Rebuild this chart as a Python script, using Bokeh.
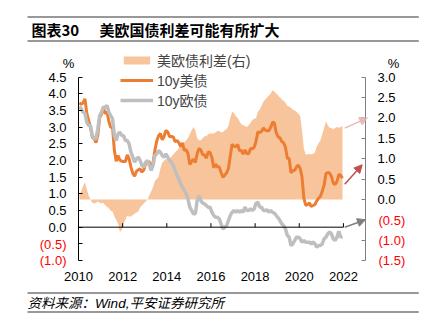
import numpy as np
from bokeh.plotting import figure
from bokeh.models import (Range1d, LinearAxis, FixedTicker, Legend, LegendItem,
                          ColumnDataSource, Label, Arrow, NormalHead, CustomJSTickFormatter)
from bokeh.embed import file_html
from bokeh.resources import INLINE

# ---------------- data (monthly, Jan 2010 - Dec 2021) ----------------
us10y = [3.73, 3.69, 3.73, 3.85, 3.42, 3.20, 3.01, 2.70, 2.65, 2.54, 2.76, 3.29,
         3.39, 3.58, 3.41, 3.46, 3.17, 3.00, 3.00, 2.30, 1.98, 2.15, 2.01, 1.98,
         1.97, 1.97, 2.17, 2.05, 1.80, 1.62, 1.53, 1.68, 1.72, 1.75, 1.65, 1.72,
         1.91, 1.98, 1.96, 1.76, 1.93, 2.30, 2.58, 2.74, 2.81, 2.62, 2.72, 2.90,
         2.86, 2.71, 2.72, 2.71, 2.56, 2.60, 2.54, 2.42, 2.53, 2.30, 2.33, 2.21,
         1.88, 1.98, 2.04, 1.94, 2.20, 2.36, 2.32, 2.17, 2.17, 2.07, 2.26, 2.24,
         2.09, 1.78, 1.89, 1.81, 1.81, 1.64, 1.50, 1.56, 1.63, 1.76, 2.14, 2.49,
         2.43, 2.42, 2.48, 2.30, 2.30, 2.19, 2.32, 2.21, 2.20, 2.36, 2.35, 2.40,
         2.58, 2.86, 2.84, 2.87, 2.98, 2.91, 2.89, 2.89, 3.00, 3.15, 3.12, 2.83,
         2.71, 2.68, 2.57, 2.53, 2.40, 2.07, 2.06, 1.63, 1.70, 1.71, 1.81, 1.86,
         1.76, 1.50, 0.87, 0.66, 0.67, 0.73, 0.62, 0.65, 0.68, 0.79, 0.87, 0.93,
         1.08, 1.26, 1.61, 1.64, 1.62, 1.52, 1.32, 1.28, 1.37, 1.58, 1.56, 1.47]

eu10y = [3.62, 3.55, 3.45, 3.42, 3.15, 3.05, 3.05, 2.75, 2.65, 2.65, 2.95, 3.35,
         3.45, 3.60, 3.60, 3.65, 3.45, 3.35, 3.25, 2.75, 2.60, 2.80, 2.85, 2.75,
         2.75, 2.60, 2.60, 2.50, 2.25, 2.10, 1.95, 2.05, 2.10, 2.00, 1.85, 1.80,
         1.95, 2.00, 1.85, 1.70, 1.85, 2.15, 2.20, 2.30, 2.25, 2.15, 2.10, 2.20,
         2.10, 2.00, 1.95, 1.85, 1.70, 1.55, 1.45, 1.30, 1.20, 1.10, 1.00, 0.85,
         0.60, 0.50, 0.40, 0.40, 0.80, 0.95, 0.80, 0.72, 0.70, 0.65, 0.60, 0.60,
         0.45, 0.35, 0.30, 0.30, 0.25, 0.10, -0.05, 0.00, 0.05, 0.20, 0.35, 0.45,
         0.50, 0.45, 0.50, 0.45, 0.50, 0.45, 0.60, 0.50, 0.50, 0.55, 0.50, 0.55,
         0.72, 0.75, 0.60, 0.60, 0.50, 0.50, 0.52, 0.45, 0.50, 0.45, 0.42, 0.35,
         0.28, 0.20, 0.10, 0.05, -0.05, -0.25, -0.30, -0.55, -0.50, -0.40, -0.30, -0.30,
         -0.35, -0.45, -0.40, -0.45, -0.45, -0.45, -0.50, -0.45, -0.50, -0.60, -0.55, -0.55,
         -0.50, -0.35, -0.30, -0.20, -0.15, -0.20, -0.35, -0.40, -0.30, -0.12, -0.30, -0.28]

spread = [0.12, 0.20, 0.33, 0.42, 0.25, 0.10, 0.00, -0.08, -0.10, -0.08, -0.05, -0.08,
          -0.10, -0.08, -0.15, -0.18, -0.22, -0.28, -0.30, -0.42, -0.50, -0.60, -0.80, -0.75,
          -0.60, -0.50, -0.40, -0.42, -0.42, -0.38, -0.35, -0.32, -0.30, -0.20, -0.15, -0.10,
          -0.05, 0.00, 0.10, 0.20, 0.30, 0.45, 0.50, 0.55, 0.75, 0.90, 0.95, 1.00,
          0.95, 1.00, 1.05, 1.10, 1.15, 1.20, 1.25, 1.30, 1.35, 1.40, 1.45, 1.50,
          1.60, 1.70, 1.78, 1.70, 1.50, 1.45, 1.45, 1.50, 1.55, 1.55, 1.60, 1.62,
          1.62, 1.62, 1.65, 1.68, 1.68, 1.65, 1.65, 1.70, 1.72, 1.80, 2.00, 2.15,
          2.12, 2.05, 2.00, 1.92, 1.85, 1.82, 1.80, 1.78, 1.82, 1.88, 1.95, 1.98,
          2.00, 2.15, 2.20, 2.30, 2.40, 2.45, 2.50, 2.55, 2.60, 2.68, 2.65, 2.60,
          2.55, 2.50, 2.45, 2.42, 2.37, 2.30, 2.28, 2.25, 2.20, 2.18, 2.15, 2.10,
          2.05, 1.70, 1.25, 1.10, 1.10, 1.12, 1.10, 1.12, 1.15, 1.30, 1.38, 1.45,
          1.60, 1.75, 1.92, 1.82, 1.76, 1.75, 1.72, 1.75, 1.78, 1.76, 1.78, 1.80]

start_year = 2010
x_ticks = [2010, 2012, 2014, 2016, 2018, 2020, 2022]
x_labels = ["2010", "2012", "2014", "2016", "2018", "2020", "2022"]
left_ticks = [-1.0, -0.5, 0.0, 0.5, 1.0, 1.5, 2.0, 2.5, 3.0, 3.5, 4.0, 4.5]
left_labels = ["(1.0)", "(0.5)", "0.0", "0.5", "1.0", "1.5", "2.0", "2.5", "3.0", "3.5", "4.0", "4.5"]
right_ticks = [-1.5, -1.0, -0.5, 0.0, 0.5, 1.0, 1.5, 2.0, 2.5, 3.0]
right_labels = ["(1.5)", "(1.0)", "(0.5)", "0.0", "0.5", "1.0", "1.5", "2.0", "2.5", "3.0"]
arrow_targets = [2.0, 0.85, -0.5]   # right-axis values that the three arrows point to

series_names = ["美欧债利差(右)", "10y美债", "10y欧债"]
title_tag = "图表30"
title_text = "美欧国债利差可能有所扩大"
source_text = "资料来源：Wind,平安证券研究所"
unit_text = "%"

# ---------------- styling / layout ----------------
C_AREA = "#F8C49C"
C_US = "#ED7D31"
C_EU = "#BFBFBF"
C_RED = "#FF0000"
C_RULE = "#333333"
FONT = "'Liberation Sans', 'Noto Sans CJK SC', sans-serif"
CJK = "'Noto Sans CJK SC', sans-serif"
LINE_PX = 13 * 1.18          # rendered line pitch of a 13px multi-line label per unit line-height

W, H = 428, 331
FR_L, FR_R, FR_T, FR_B = 78, 365, 54, 260      # plot frame (canvas px)
AX_TOP = 76.7                                   # where the value axes end (4.5 / 3.0)

n = len(us10y)
t = start_year + (np.arange(n) + 0.5) / 12.0

# y ranges are extended above the axes' top so the legend inside the frame is not clipped
ext = (AX_TOP - FR_T) / (FR_B - AX_TOP)
XR = Range1d(2010, 2023)
YL = Range1d(-1.0, 4.5 + 5.5 * ext)
YR = Range1d(-1.5, 3.0 + 4.5 * ext)

p = figure(width=W, height=H, output_backend="svg", toolbar_location=None,
           x_range=XR, y_range=YL,
           min_border_left=FR_L, min_border_right=W - FR_R,
           min_border_top=FR_T, min_border_bottom=H - FR_B)
p.extra_y_ranges = {"right": YR}
p.background_fill_color = "white"
p.border_fill_color = "white"
p.outline_line_color = None
p.xgrid.visible = False
p.ygrid.visible = False

src = ColumnDataSource(dict(t=t, us=us10y, eu=eu10y, sp=spread))

area = p.varea(x="t", y1=0, y2="sp", source=src, fill_color=C_AREA, y_range_name="right")
l_us = p.line("t", "us", source=src, line_color=C_US, line_width=3)
l_eu = p.line("t", "eu", source=src, line_color=C_EU, line_width=3.5)

# zero line of the left axis with upward year ticks
p.segment(x0=[x_ticks[0]], x1=[x_ticks[-1]], y0=[0], y1=[0], line_color="black", line_width=1)
p.segment(x0=x_ticks, x1=x_ticks, y0=[0] * len(x_ticks), y1=[0.12] * len(x_ticks),
          line_color="black", line_width=1)

# bottom axis: labels only
xa = p.xaxis[0]
xa.ticker = FixedTicker(ticks=x_ticks)
xa.major_label_overrides = {k: v for k, v in zip(x_ticks, x_labels)}
xa.axis_line_color = None
xa.major_tick_line_color = None
xa.minor_tick_line_color = None
xa.major_label_standoff = 5
xa.major_label_text_font = FONT
xa.major_label_text_font_size = "13px"
xa.major_label_text_color = "black"

fmt_code = """
let k = -1;
for (let j = 0; j < tv.length; j++) { if (Math.abs(tv[j] - tick) < 1e-9) { k = j; } }
const s = k >= 0 ? tl[k] : '';
return s.startsWith('(') ? '' : s;
"""

def style_axis(ax, color):
    ax.axis_line_color = color
    ax.major_tick_line_color = color
    ax.major_tick_in = 4
    ax.major_tick_out = 0
    ax.minor_tick_line_color = None
    ax.major_label_standoff = 12
    ax.major_label_text_font = FONT
    ax.major_label_text_font_size = "13px"
    ax.major_label_text_color = "black"

ya = p.yaxis[0]
ya.ticker = FixedTicker(ticks=left_ticks)
ya.bounds = (left_ticks[0], left_ticks[-1])
ya.formatter = CustomJSTickFormatter(args=dict(tv=left_ticks, tl=left_labels), code=fmt_code)
style_axis(ya, "black")

yr = LinearAxis(y_range_name="right")
yr.ticker = FixedTicker(ticks=right_ticks)
yr.bounds = (right_ticks[0], right_ticks[-1])
yr.formatter = CustomJSTickFormatter(args=dict(tv=right_ticks, tl=right_labels), code=fmt_code)
style_axis(yr, "#808080")
p.add_layout(yr, "right")

# canvas-position helpers (derived from the ranges)
def cy_left(v):
    return FR_B - (v - YL.start) / (YL.end - YL.start) * (FR_B - FR_T)

def cy_right(v):
    return FR_B - (v - YR.start) / (YR.end - YR.start) * (FR_B - FR_T)

def canvas_label(panel, **kw):
    kw.setdefault("text_font", FONT)
    kw.setdefault("text_font_size", "13px")
    kw.setdefault("text_color", "black")
    p.add_layout(Label(x_units="canvas", y_units="canvas", **kw), panel)

# red (negative) tick labels, one multi-line label per axis
negL = [(v, s) for v, s in zip(left_ticks, left_labels) if s.startswith("(")]
negR = [(v, s) for v, s in zip(right_ticks, right_labels) if s.startswith("(")]
negL.sort(key=lambda a: -a[0])
negR.sort(key=lambda a: -a[0])
stepL = cy_left(negL[1][0]) - cy_left(negL[0][0])
stepR = cy_right(negR[1][0]) - cy_right(negR[0][0])
canvas_label("left", x=FR_L - 12, y=(cy_left(negL[0][0]) + cy_left(negL[-1][0])) / 2,
             text="\n".join(s for _, s in negL), text_align="right", text_baseline="middle",
             text_color=C_RED, text_line_height=stepL / LINE_PX)
canvas_label("right", x=FR_R + 13, y=(cy_right(negR[0][0]) + cy_right(negR[-1][0])) / 2,
             text="\n".join(s for _, s in negR), text_align="left", text_baseline="middle",
             text_color=C_RED, text_line_height=stepR / LINE_PX)

# unit labels
canvas_label("left", x=68, y=63, text=unit_text, text_align="center", text_baseline="middle")
canvas_label("below", x=393, y=63, text=unit_text, text_align="center", text_baseline="middle")

# title block and source block with rules
canvas_label("above", x=31, y=29, text=title_tag, text_baseline="middle", text_font=CJK,
             text_font_size="15px", text_font_style="bold")
canvas_label("above", x=99, y=29, text=title_text, text_baseline="middle", text_font=CJK,
             text_font_size="15px", text_font_style="bold")
canvas_label("below", x=27, y=302.5, text=source_text, text_baseline="middle",
             text_font_size="13.5px", text_font_style="italic")
for panel, ry in (("above", 16), ("above", 40), ("below", 292), ("below", 311)):
    canvas_label(panel, x=27, y=ry, text=" ", text_align="left", text_baseline="top",
                 text_font_size="1px", padding=(1, 390, 0, 0),
                 background_fill_color=C_RULE, background_fill_alpha=1)

# legend
legend = Legend(items=[LegendItem(label=series_names[0], renderers=[area]),
                       LegendItem(label=series_names[1], renderers=[l_us]),
                       LegendItem(label=series_names[2], renderers=[l_eu])],
                location=(42, 150), padding=0, margin=0, spacing=0,
                glyph_width=33, glyph_height=10, label_height=12, label_standoff=4,
                label_text_font=FONT, label_text_font_size="14px",
                border_line_color=None, background_fill_alpha=0)
p.add_layout(legend)

# arrows pointing to the right axis
def left_to_right(v):
    f = (v - YL.start) / (YL.end - YL.start)
    return YR.start + f * (YR.end - YR.start)

arrow_specs = [
    (spread[-1] - 0.05, arrow_targets[0], "#E6B9B8", 2023.1),
    (left_to_right(us10y[-1] - 0.18), arrow_targets[1], "#C0504D", 2022.85),
    (left_to_right(0.0), arrow_targets[2], "#808080", 2023.0),
]
for ys, ye, col, xe in arrow_specs:
    p.add_layout(Arrow(end=NormalHead(size=8, fill_color=col, line_color=col),
                       x_start=t[-1] + 0.1, y_start=ys, x_end=xe, y_end=ye,
                       line_color=col, line_width=1.5, y_range_name="right"))

open("out.html", "w").write(file_html(p, INLINE))
